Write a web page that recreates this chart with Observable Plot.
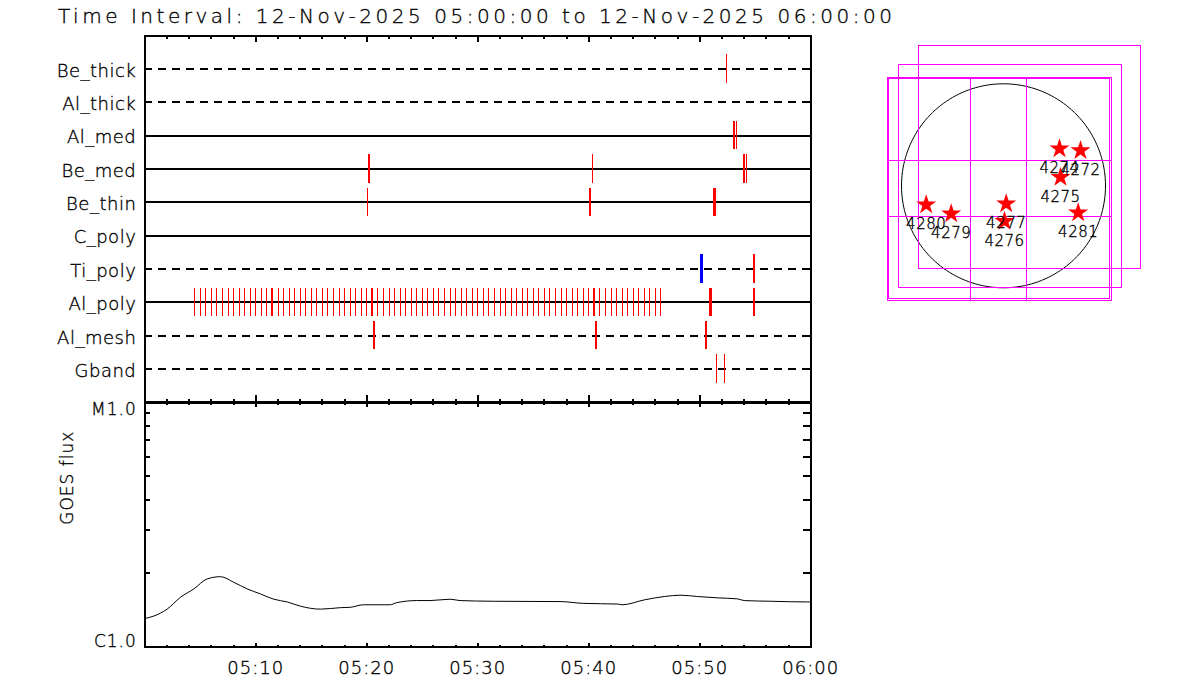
<!DOCTYPE html>
<html><head><meta charset="utf-8">
<script src="https://cdn.jsdelivr.net/npm/d3@7"></script>
<script src="https://cdn.jsdelivr.net/npm/@observablehq/plot@0.6"></script>
<style>
body{margin:0;background:#fff;}
#wrap{position:relative;width:1200px;height:700px;overflow:hidden;background:#fff;font-family:"DejaVu Sans",sans-serif;}
#title{position:absolute;left:58px;top:6px;font-size:20px;line-height:20px;font-weight:200;letter-spacing:3.52px;white-space:nowrap;color:#000;-webkit-text-stroke:0.35px #000;}
.panel{position:absolute;}
svg text{stroke:#000;stroke-width:0.35px;}
</style></head><body>
<div id="wrap"><div id="title"></div></div>
<script>
// ---------------- data ----------------
const titleText = "Time Interval: 12-Nov-2025 05:00:00 to 12-Nov-2025 06:00:00";
const startTime = "2025-11-12T05:00:00Z";
const endTime   = "2025-11-12T06:00:00Z";

const bands     = ["Be_thick","Al_thick","Al_med","Be_med","Be_thin","C_poly","Ti_poly","Al_poly","Al_mesh","Gband"];
const bandState = ["out","out","in","in","in","in","out","in","out","out"];

// single events: band, minutes after 05:00, count, flag (R = red, B = blue)
const eventBand   = ["Be_thick","Al_med","Al_med","Be_med","Be_med","Be_med","Be_med","Be_thin","Be_thin","Be_thin",
                     "Ti_poly","Ti_poly","Ti_poly","Al_poly","Al_poly","Al_poly","Al_poly","Al_poly","Al_poly",
                     "Al_mesh","Al_mesh","Al_mesh","Gband","Gband"];
const eventMinute = [52.43, 53.08, 53.35, 20.21, 40.30, 54.02, 54.22, 20.05, 40.14, 51.29,
                     50.19, 54.80, 54.96, 11.50, 20.50, 40.50, 50.93, 54.80, 54.96,
                     20.68, 40.69, 50.54, 51.52, 52.19];
const eventCount  = [1, 2, 1, 2, 1, 2, 1, 1, 2, 3,
                     3, 1, 1, 2, 2, 2, 3, 1, 1,
                     2, 2, 2, 1, 1];
const eventFlag   = ["R","R","R","R","R","R","R","R","R","R",
                     "B","R","R","R","R","R","R","R","R",
                     "R","R","R","R","R"];
// regular Al_poly series (minutes after 05:00)
const alPolyMinutes = [4.5,5,5.5,6,6.5,7,7.5,8,8.5,9,9.5,10,10.5,11,11.5,12,12.5,13,13.5,14,14.5,15,15.5,16,16.5,17,17.5,18,18.5,19,19.5,
  20,20.5,21,21.5,22,22.5,23,23.5,24,24.5,25,25.5,26,26.5,27,27.5,28,28.5,29,29.5,30,30.5,31,31.5,32,32.5,33,33.5,34,34.5,
  35,35.5,36,36.5,37,37.5,38,38.5,39,39.5,40,40.5,41,41.5,42,42.5,43,43.5,44,44.5,45,45.5,46,46.5];

// GOES flux (minutes after 05:00, W/m^2 in units of 1e-6)
const goesMinute = [0,0.81,2.01,3.22,4.42,5.62,6.82,8.02,9.22,10.42,11.62,12.83,14.03,15.83,17.63,18.5,19.7,22.1,22.7,24.5,25.7,27.5,28.4,31.4,37.5,39.5,42.6,43.0,45.0,46.8,48.3,49.8,51.6,53.4,54.0,56.4,59.7,60];
const goesValue  = [1.31,1.34,1.43,1.60,1.73,1.90,1.94,1.84,1.73,1.65,1.57,1.53,1.47,1.43,1.45,1.455,1.49,1.49,1.52,1.55,1.55,1.57,1.55,1.54,1.535,1.51,1.50,1.49,1.56,1.61,1.63,1.61,1.59,1.575,1.55,1.54,1.53,1.53];

const xTickLabels = ["05:10","05:20","05:30","05:40","05:50","06:00"];
const yTickLabels = ["C1.0","M1.0"];
const yTickValues = [1e-6, 1e-5];
const yLabel = "GOES flux";

// solar disk panel (arcsec)
const sunRadius = 1020;
const boxX1 = [-847, -1047, -1157, -1147];
const boxX2 = [1373, 1183, 1080, 1060];
const boxY1 = [-834, -1020, -1147, -1134];
const boxY2 = [1400, 1210, 1080, 1070];
const gridX = [-327, 233];
const gridY = [253, -307];
const arNumber = ["4274","4272","4275","4281","4277","4276","4280","4279"];
const arX = [560, 770, 570, 747, 27, 10, -773, -523];
const arY = [370, 353, 86, -270, -180, -354, -190, -280];

// ---------------- build ----------------
const t0 = new Date(startTime), t1 = new Date(endTime);
const toDate = m => new Date(+t0 + m * 60000);
const rows = bands.map((b, k) => ({band: b, i: k + 1, state: bandState[k]}));
const idx = b => bands.indexOf(b) + 1;
const events = eventBand.map((b, k) => ({i: idx(b), t: toDate(eventMinute[k]), n: eventCount[k], flag: eventFlag[k]}))
  .concat(alPolyMinutes.map(m => ({i: idx("Al_poly"), t: toDate(m), n: 1, flag: "R"})));
const goes = goesMinute.map((m, k) => ({t: toDate(m), v: goesValue[k] * 1e-6}));
const majorT = d3.utcMinute.every(10).range(t0, new Date(+t1 + 1));
const minorT = d3.utcMinute.every(2).range(t0, new Date(+t1 + 1));
const labelT = xTickLabels.map(s => new Date(`2025-11-12T${s}:00Z`));
const fmt = d3.utcFormat("%H:%M");

const font = {fontFamily: '"DejaVu Sans", sans-serif', fontWeight: 200, background: "transparent", color: "#000", overflow: "visible"};
const W = 830, ML = 144.3, MR = 19.7, FW = W - ML - MR;
const crisp = {shapeRendering: "crispEdges"};

document.getElementById("title").textContent = titleText;
const wrap = document.getElementById("wrap");
function place(el, left, top) { el.classList.add("panel"); el.style.left = left + "px"; el.style.top = top + "px"; wrap.appendChild(el); }

// top panel
const TH = 410, TMT = 35, TMB = 8, TFH = TH - TMT - TMB;
const topPlot = Plot.plot({
  width: W, height: TH, marginLeft: ML, marginRight: MR, marginTop: TMT, marginBottom: TMB,
  style: {...font, fontSize: "18px", letterSpacing: "0.5px"},
  x: {type: "utc", domain: [t0, t1], axis: null},
  y: {domain: [0, bands.length + 1], reverse: true, axis: null},
  color: {domain: ["R","B"], range: ["#ff0000","#0000ff"]},
  marks: [
    Plot.ruleY(rows.filter(d => d.state === "in"), {y: "i", stroke: "#000", strokeWidth: 2, ...crisp}),
    Plot.ruleY(rows.filter(d => d.state === "out"), {y: "i", stroke: "#000", strokeWidth: 2, strokeDasharray: "8,6", ...crisp}),
    Plot.ruleX(events, {x: "t", y1: d => d.i - 0.425, y2: d => d.i + 0.425, stroke: "flag", strokeWidth: "n", ...crisp}),
    Plot.ruleY(rows, {y: "i", insetRight: FW - 4, stroke: "#000", strokeWidth: 2, ...crisp}),
    Plot.ruleX(minorT, {x: d => d, insetBottom: TFH - 4, strokeWidth: 2, ...crisp}),
    Plot.ruleX(majorT, {x: d => d, insetBottom: TFH - 7, strokeWidth: 2, ...crisp}),
    Plot.ruleX(minorT, {x: d => d, insetTop: TFH - 2.6, strokeWidth: 2, ...crisp}),
    Plot.ruleX(majorT, {x: d => d, insetTop: TFH - 6.7, strokeWidth: 2, ...crisp}),
    Plot.frame({stroke: "#000", strokeWidth: 2, ...crisp}),
    Plot.axisY({ticks: rows.map(d => d.i), tickFormat: i => bands[i - 1], tickSize: 0, tickPadding: 8.5, dy: 2, fontSize: 18, label: null})
  ]
});
place(topPlot, 0, 0);

// GOES panel
const GH = 310, GMT = 11.7, GMB = 53.3, GFH = GH - GMT - GMB;
const yMinor = [2e-6,3e-6,4e-6,5e-6,6e-6,7e-6,8e-6,9e-6];
const goesPlot = Plot.plot({
  width: W, height: GH, marginLeft: ML, marginRight: MR, marginTop: GMT, marginBottom: GMB,
  style: {...font, fontSize: "17px", letterSpacing: "1px"},
  x: {type: "utc", domain: [t0, t1], axis: null},
  y: {type: "log", domain: [1e-6, 1e-5], axis: null},
  marks: [
    Plot.line(goes, {x: "t", y: "v", stroke: "#000", strokeWidth: 1, curve: "monotone-x"}),
    Plot.ruleX(minorT, {x: d => d, insetBottom: GFH - 3.3, strokeWidth: 2, ...crisp}),
    Plot.ruleX(majorT, {x: d => d, insetBottom: GFH - 5, strokeWidth: 2, ...crisp}),
    Plot.ruleX(minorT, {x: d => d, insetTop: GFH - 2, strokeWidth: 2, ...crisp}),
    Plot.ruleX(majorT, {x: d => d, insetTop: GFH - 4, strokeWidth: 2, ...crisp}),
    Plot.ruleY(yMinor, {y: d => d, insetRight: FW - 6, strokeWidth: 2, ...crisp}),
    Plot.ruleY(yMinor, {y: d => d, insetLeft: FW - 7, strokeWidth: 2, ...crisp}),
    Plot.frame({stroke: "#000", strokeWidth: 2, ...crisp}),
    Plot.axisX({anchor: "bottom", ticks: labelT, tickFormat: fmt, tickSize: 0, tickPadding: 14, fontSize: 18, label: null}),
    Plot.axisY({anchor: "left", ticks: [yTickValues[1]], tickFormat: () => yTickLabels[1], tickSize: 0, tickPadding: 8, dy: 7, fontSize: 17, label: null}),
    Plot.axisY({anchor: "left", ticks: [yTickValues[0]], tickFormat: () => yTickLabels[0], tickSize: 0, tickPadding: 8, dy: -6, fontSize: 17, label: null}),
    Plot.text([yLabel], {text: d => d, frameAnchor: "left", dx: -77, rotate: -90, fontSize: 17})
  ]
});
place(goesPlot, 0, 390);

// solar disk panel
const circle = d3.range(0, 361, 2).map(a => ({x: sunRadius * Math.cos(a * Math.PI / 180), y: sunRadius * Math.sin(a * Math.PI / 180)}));
const boxes = boxX1.map((x, k) => ({x1: x, x2: boxX2[k], y1: boxY1[k], y2: boxY2[k]}));
const box3 = boxes[2];
const ars = arNumber.map((n, k) => ({n, x: arX[k], y: arY[k]}));
const diskPlot = Plot.plot({
  width: 300, height: 300, margin: 0,
  style: {...font, fontSize: "15px", letterSpacing: "0.5px"},
  x: {domain: [-1430, 1570], axis: null},
  y: {domain: [-1347, 1653], axis: null},
  marks: [
    Plot.line(circle, {x: "x", y: "y", stroke: "#000", strokeWidth: 1}),
    Plot.rect(boxes, {x1: "x1", x2: "x2", y1: "y1", y2: "y2", fill: "none", stroke: "#ff00ff", strokeWidth: 1, ...crisp}),
    Plot.ruleX(gridX, {x: d => d, y1: box3.y1, y2: box3.y2, stroke: "#ff00ff", strokeWidth: 1, ...crisp}),
    Plot.ruleY(gridY, {y: d => d, x1: box3.x1, x2: box3.x2, stroke: "#ff00ff", strokeWidth: 1, ...crisp}),
    Plot.dot(ars, {x: "x", y: "y", symbol: "star", r: 6.3, fill: "#ff0000", stroke: "none"}),
    Plot.text(ars, {x: "x", y: "y", text: "n", dy: 19.5, fill: "#000", fontSize: 15})
  ]
});
place(diskPlot, 860, 20);
</script>
</body></html>
